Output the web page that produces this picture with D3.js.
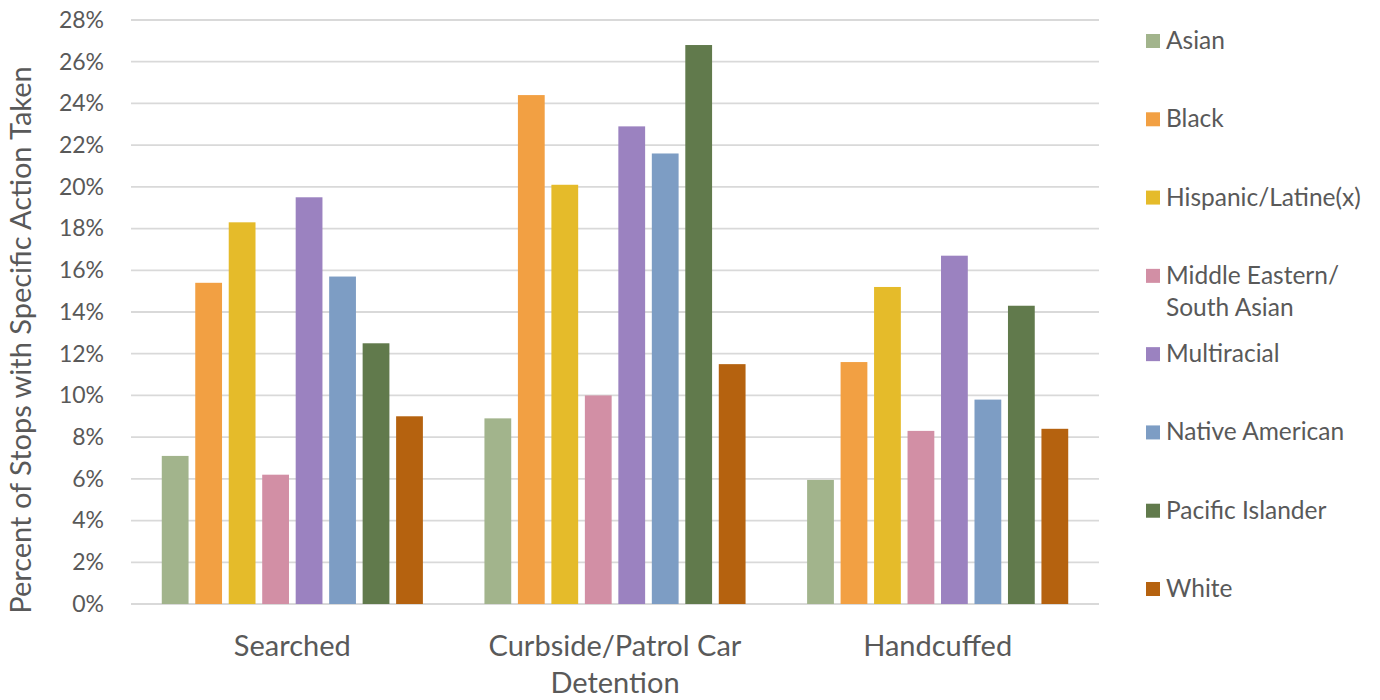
<!DOCTYPE html>
<html><head><meta charset="utf-8">
<script src="https://cdn.jsdelivr.net/npm/d3@7"></script>
<style>body{margin:0;background:#fff;} text{font-family:Lato,"Open Sans",sans-serif;fill:#595959;}</style>
</head><body><svg id="c" width="1380" height="700"></svg>
<script>
const categories = ["Searched", "Curbside/Patrol Car Detention", "Handcuffed"];
const series = ["Asian","Black","Hispanic/Latine(x)","Middle Eastern/ South Asian","Multiracial","Native American","Pacific Islander","White"];
const asian = [7.1, 8.9, 5.95];
const black = [15.4, 24.4, 11.6];
const hispanic = [18.3, 20.1, 15.2];
const mesa = [6.2, 10.0, 8.3];
const multiracial = [19.5, 22.9, 16.7];
const nativeAm = [15.7, 21.6, 9.8];
const pacific = [12.5, 26.8, 14.3];
const white = [9.0, 11.5, 8.4];
const yTicks = [0,2,4,6,8,10,12,14,16,18,20,22,24,26,28];
const colors = ["#a2b48c","#f2a043","#e5bb2a","#d28fa5","#9b82c0","#7d9dc4","#617a4c","#b5620f"];
const values = [asian, black, hispanic, mesa, multiracial, nativeAm, pacific, white];

const svg = d3.select("#c");
const m = {l:131, r:1099, t:20, b:604};
const x0 = d3.scaleBand().domain(categories).range([m.l, m.r]).paddingInner(0.17).paddingOuter(0.085);
const x1 = d3.scaleBand().domain(series).range([0, x0.bandwidth()]).paddingInner(0.2).paddingOuter(0.1);
const y = d3.scaleLinear().domain([0,28]).range([m.b, m.t]);

// gridlines
svg.append("g").selectAll("line").data(yTicks).join("line")
  .attr("x1", m.l).attr("x2", m.r).attr("y1", d=>y(d)).attr("y2", d=>y(d))
  .attr("stroke", "#d9d9d9").attr("stroke-width", 1.8);

// y axis labels
const yAxis = d3.axisLeft(y).tickValues(yTicks).tickFormat(d=>d+"%").tickSize(0).tickPadding(0);
const ya = svg.append("g").attr("transform", `translate(${m.l-27},0)`).call(yAxis);
ya.select(".domain").remove();
ya.selectAll("text").style("font-size","23px").style("font-family",'Lato,sans-serif').attr("fill","#595959");

// bars
const g = svg.append("g");
categories.forEach((c, ci) => {
  series.forEach((s, si) => {
    g.append("rect")
      .attr("x", x0(c) + x1(s))
      .attr("y", y(values[si][ci]))
      .attr("width", x1.bandwidth())
      .attr("height", y(0) - y(values[si][ci]))
      .attr("fill", colors[si]);
  });
});

// x axis labels
const xLabels = [["Searched"],["Curbside/Patrol Car","Detention"],["Handcuffed"]];
categories.forEach((c, ci) => {
  const t = svg.append("text").attr("text-anchor","middle")
    .attr("x", x0(c) + x0.bandwidth()/2).attr("y", 656).style("font-size","29px");
  xLabels[ci].forEach((line, li) => {
    t.append("tspan").attr("x", x0(c) + x0.bandwidth()/2).attr("dy", li===0?0:37).text(line);
  });
});

// y title
svg.append("text").attr("transform","translate(31,340) rotate(-90)").attr("text-anchor","middle")
  .style("font-size","29px").text("Percent of Stops with Specific Action Taken");

// legend
const legendY = d3.scaleLinear().domain([0,7]).range([41, 589]);
const legendLines = [["Asian"],["Black"],["Hispanic/Latine(x)"],["Middle Eastern/","South Asian"],["Multiracial"],["Native American"],["Pacific Islander"],["White"]];
series.forEach((s, i) => {
  const ly = legendY(i);
  svg.append("rect").attr("x",1146).attr("y",ly-7).attr("width",14).attr("height",14).attr("fill",colors[i]);
  const t = svg.append("text").attr("x",1166).attr("y",ly+8).style("font-size","24.5px");
  legendLines[i].forEach((line, li) => {
    t.append("tspan").attr("x",1166).attr("dy", li===0?0:32).text(line);
  });
});
</script></body></html>
